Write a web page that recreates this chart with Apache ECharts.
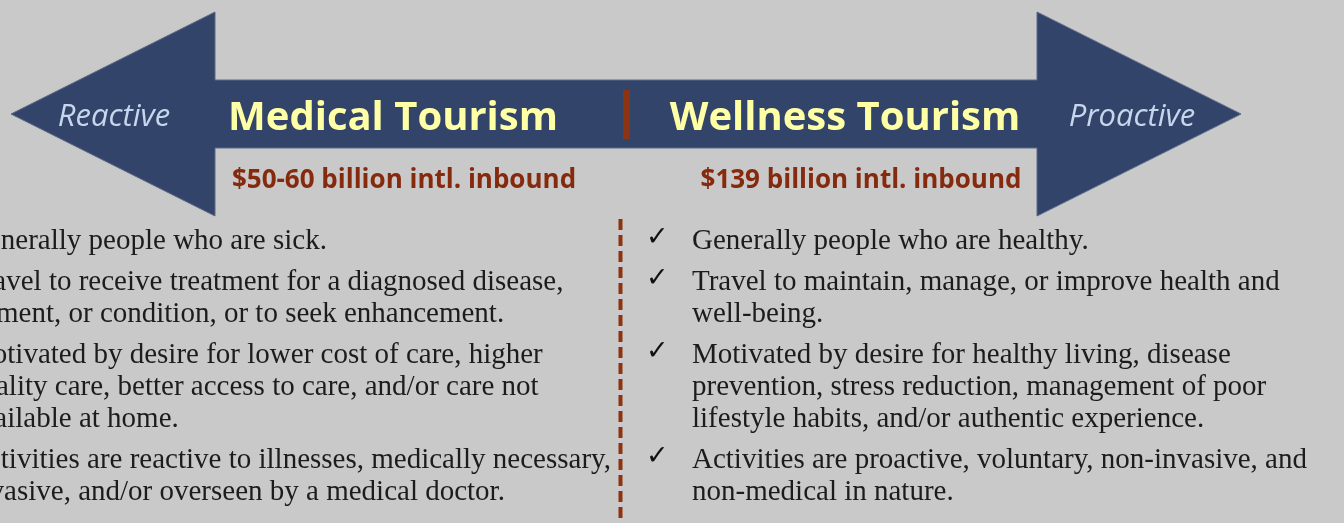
<!DOCTYPE html>
<html>
<head>
<meta charset="utf-8">
<script src="https://cdn.jsdelivr.net/npm/echarts@6.0.0/dist/echarts.min.js"></script>
<style>
  html, body { margin: 0; padding: 0; background: #c9c9c9; }
  #chartBox { width: 1344px; height: 523px; }
</style>
</head>
<body>
<div id="chartBox"></div>
<script>
// labels on the double arrow
const arrowLabels = ['Reactive', 'Proactive']
const titles = ['Medical Tourism', 'Wellness Tourism']
const marketSizes = ['$50-60 billion intl. inbound', '$139 billion intl. inbound']

// bullet points, one array of lines per point
const medicalPoints = [
    ['Generally people who are sick.'],
    ['Travel to receive treatment for a diagnosed disease,', 'ailment, or condition, or to seek enhancement.'],
    ['Motivated by desire for lower cost of care, higher', 'quality care, better access to care, and/or care not', 'available at home.'],
    ['Activities are reactive to illnesses, medically necessary,', 'invasive, and/or overseen by a medical doctor.']
]
const wellnessPoints = [
    ['Generally people who are healthy.'],
    ['Travel to maintain, manage, or improve health and', 'well-being.'],
    ['Motivated by desire for healthy living, disease', 'prevention, stress reduction, management of poor', 'lifestyle habits, and/or authentic experience.'],
    ['Activities are proactive, voluntary, non-invasive, and', 'non-medical in nature.']
]

const navy = '#324469'
const rust = '#8c3312'
const bodyFont = '29px "Liberation Serif", serif'
const headFont = '"Open Sans", sans-serif'

function bulletList(points, textX, checkX) {
    let els = []
    let y = 241
    points.forEach(lines => {
        els.push({
            type: 'text', x: checkX, y: y - 3,
            style: { text: '✓', font: '27px "DejaVu Sans"', fill: '#111', align: 'left', verticalAlign: 'middle' }
        })
        lines.forEach((line, i) => {
            els.push({
                type: 'text', x: textX, y: y,
                style: { text: line, font: bodyFont, fill: '#1c1c1c', align: 'left', verticalAlign: 'middle' }
            })
            y += 32
        })
        y += 9
    })
    return els
}

const chart = echarts.init(document.getElementById('chartBox'))
const option = {
    backgroundColor: '#c9c9c9',
    graphic: [
        {
            type: 'polygon',
            shape: {
                points: [[11, 114], [215, 12], [215, 80], [1037, 80], [1037, 12], [1241, 114],
                    [1037, 216], [1037, 148], [215, 148], [215, 216]]
            },
            style: { fill: navy, stroke: '#5b6885', lineWidth: 1 }
        },
        { type: 'rect', shape: { x: 623, y: 90, width: 7, height: 49 }, style: { fill: rust } },
        {
            type: 'line', shape: { x1: 620.5, y1: 219, x2: 620.5, y2: 523 },
            style: { stroke: rust, lineWidth: 4, lineDash: [11, 5] }
        },
        {
            type: 'text', x: 114, y: 117,
            style: { text: arrowLabels[0], font: 'italic 31px ' + headFont, fill: '#c6d6ec', align: 'center', verticalAlign: 'middle' }
        },
        {
            type: 'text', x: 1132, y: 117,
            style: { text: arrowLabels[1], font: 'italic 31px ' + headFont, fill: '#c6d6ec', align: 'center', verticalAlign: 'middle' }
        },
        {
            type: 'text', x: 393, y: 119,
            style: { text: titles[0], font: 'bold 40px ' + headFont, fill: '#ffffa6', align: 'center', verticalAlign: 'middle' }
        },
        {
            type: 'text', x: 845, y: 119,
            style: { text: titles[1], font: 'bold 40px ' + headFont, fill: '#ffffa6', align: 'center', verticalAlign: 'middle' }
        },
        {
            type: 'text', x: 404, y: 181,
            style: { text: marketSizes[0], font: 'bold 26px ' + headFont, fill: '#862a0e', align: 'center', verticalAlign: 'middle' }
        },
        {
            type: 'text', x: 861, y: 181,
            style: { text: marketSizes[1], font: 'bold 26px ' + headFont, fill: '#862a0e', align: 'center', verticalAlign: 'middle' }
        },
        ...bulletList(medicalPoints, -33, -79),
        ...bulletList(wellnessPoints, 692, 646)
    ]
}
chart.setOption(option)
</script>
</body>
</html>
